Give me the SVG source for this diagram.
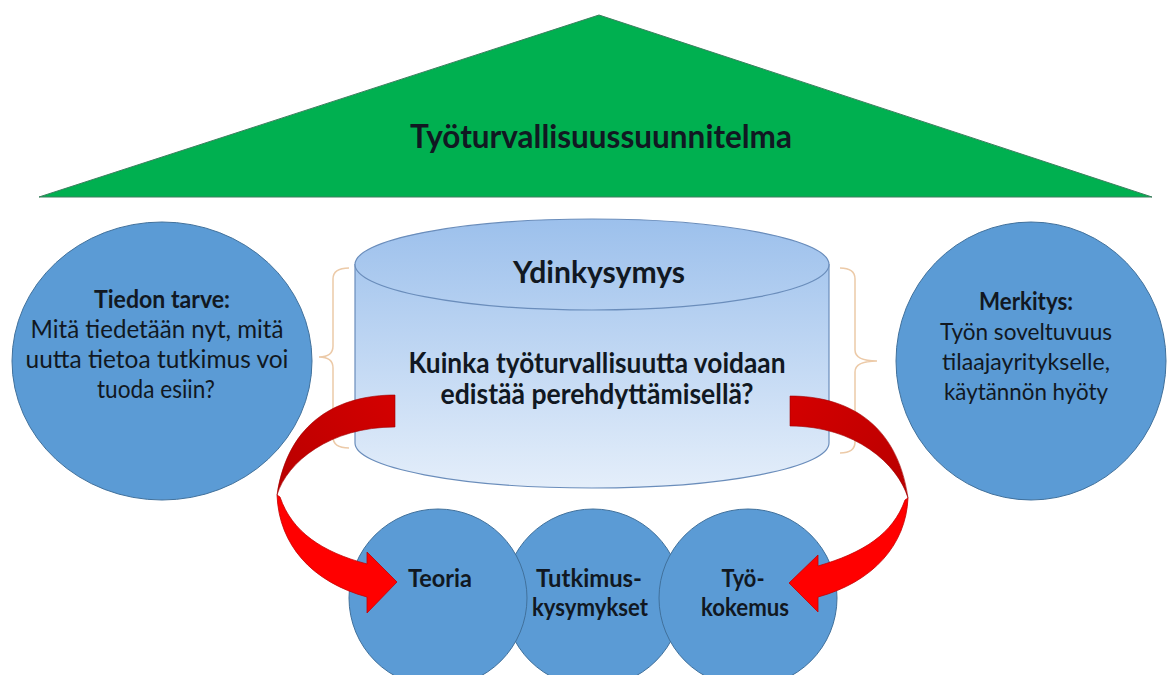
<svg xmlns="http://www.w3.org/2000/svg" width="1170" height="675" viewBox="0 0 1170 675">
  <defs>
    <linearGradient id="cylGrad" gradientUnits="userSpaceOnUse" x1="0" y1="219" x2="0" y2="488">
      <stop offset="0" stop-color="#9cc0ec"/>
      <stop offset="1" stop-color="#e4eefa"/>
    </linearGradient>
    <linearGradient id="darkRed" gradientUnits="userSpaceOnUse" x1="395" y1="395" x2="277" y2="495">
      <stop offset="0" stop-color="#d40000"/>
      <stop offset="1" stop-color="#b80000"/>
    </linearGradient>
    <style>
      .txt { font-family: Lato, "Noto Sans", "Liberation Sans", sans-serif; fill: #111822; text-anchor: middle; }
      .bold { font-weight: 700; }
      .bigc { fill: #5b9bd5; stroke: #41719c; stroke-width: 1; }
      .brace { fill: none; stroke: #eccaa8; stroke-width: 1.5; }
      .back { fill: url(#darkRed); stroke: #a00000; stroke-width: 0.6; }
      .front { fill: #ff0000; stroke: #c40000; stroke-width: 0.8; }
    </style>
  </defs>
  <rect width="1170" height="675" fill="#ffffff"/>

  <g id="roof">
    <polygon points="599,15 39,197 1152,197" fill="#00b050" stroke="#3c7f5e" stroke-width="1"/>
    <text class="txt bold" x="601" y="148" font-size="33" textLength="382" lengthAdjust="spacingAndGlyphs">Työturvallisuussuunnitelma</text>
  </g>

  <g id="tiedon-tarve">
    <ellipse class="bigc" cx="162" cy="361" rx="150" ry="139"/>
    <text class="txt bold" x="162" y="308" font-size="25" textLength="136" lengthAdjust="spacingAndGlyphs">Tiedon tarve:</text>
    <text class="txt" x="157" y="338" font-size="25" textLength="253" lengthAdjust="spacingAndGlyphs">Mitä tiedetään nyt, mitä</text>
    <text class="txt" x="157" y="368" font-size="25" textLength="263" lengthAdjust="spacingAndGlyphs">uutta tietoa tutkimus voi</text>
    <text class="txt" x="156" y="398" font-size="25" textLength="118" lengthAdjust="spacingAndGlyphs">tuoda esiin?</text>
  </g>

  <g id="merkitys">
    <ellipse class="bigc" cx="1031" cy="361" rx="135" ry="139"/>
    <text class="txt bold" x="1026" y="310" font-size="24" textLength="94" lengthAdjust="spacingAndGlyphs">Merkitys:</text>
    <text class="txt" x="1026" y="340" font-size="24" textLength="172" lengthAdjust="spacingAndGlyphs">Työn soveltuvuus</text>
    <text class="txt" x="1026" y="370" font-size="24" textLength="168" lengthAdjust="spacingAndGlyphs">tilaajayritykselle,</text>
    <text class="txt" x="1026" y="400" font-size="24" textLength="164" lengthAdjust="spacingAndGlyphs">käytännön hyöty</text>
  </g>

  <g id="ydinkysymys">
    <path d="M355,264.5 L355,443 A237,45 0 0 0 829,443 L829,264.5 Z" fill="url(#cylGrad)" stroke="#6a8dbb" stroke-width="1.2"/>
    <ellipse cx="592" cy="264.5" rx="237" ry="45.5" fill="url(#cylGrad)" stroke="#6a8dbb" stroke-width="1.2"/>
    <text class="txt bold" x="599" y="283" font-size="31" textLength="172" lengthAdjust="spacingAndGlyphs">Ydinkysymys</text>
    <text class="txt bold" x="597" y="373" font-size="28" textLength="377" lengthAdjust="spacingAndGlyphs">Kuinka työturvallisuutta voidaan</text>
    <text class="txt bold" x="597" y="404" font-size="28" textLength="313" lengthAdjust="spacingAndGlyphs">edistää perehdyttämisellä?</text>
  </g>

  <g id="tutkimuskysymykset">
    <circle class="bigc" cx="593" cy="598" r="89"/>
    <text class="txt bold" x="589" y="587" font-size="24" textLength="106" lengthAdjust="spacingAndGlyphs">Tutkimus-</text>
    <text class="txt bold" x="590" y="616" font-size="24" textLength="116" lengthAdjust="spacingAndGlyphs">kysymykset</text>
  </g>

  <g id="teoria">
    <circle class="bigc" cx="438" cy="598" r="89"/>
    <text class="txt bold" x="440" y="587" font-size="24" textLength="64" lengthAdjust="spacingAndGlyphs">Teoria</text>
  </g>

  <g id="tyokokemus">
    <circle class="bigc" cx="748" cy="598" r="89"/>
    <text class="txt bold" x="743" y="587" font-size="24" textLength="43" lengthAdjust="spacingAndGlyphs">Työ-</text>
    <text class="txt bold" x="745" y="616" font-size="24" textLength="88" lengthAdjust="spacingAndGlyphs">kokemus</text>
  </g>

  <g id="connectors">
    <path class="brace" d="M349,268 Q333,268 333,279 L333,346 Q333,357 319,357 Q333,357 333,368 L333,437 Q333,448 349,448"/>
    <path class="brace" d="M840,268 Q855,268 855,279 L855,350 Q855,361 877,361 Q855,361 855,372 L855,442 Q855,453 840,453"/>
    <g id="arrow-left">
      <path class="back" d="M395,395 C340,395 288,420 277,495 C287,462 330,427 395,427 Z"/>
      <path class="front" d="M277,495 C279,545 312,582 367,597 L367,613 L397,582 L367,552 L367,564 C322,552 292,532 280,497 Z"/>
    </g>
    <g id="arrow-right" transform="matrix(-1 0 0 1 1185 0)">
      <path class="back" d="M395,396 C340,396 288,421 277,498 C287,464 330,426 395,426 Z"/>
      <path class="front" d="M277,498 C279,545 312,582 367,597 L367,612 L396,583 L367,555 L367,566 C322,553 292,534 280,500 Z"/>
    </g>
  </g>
</svg>
